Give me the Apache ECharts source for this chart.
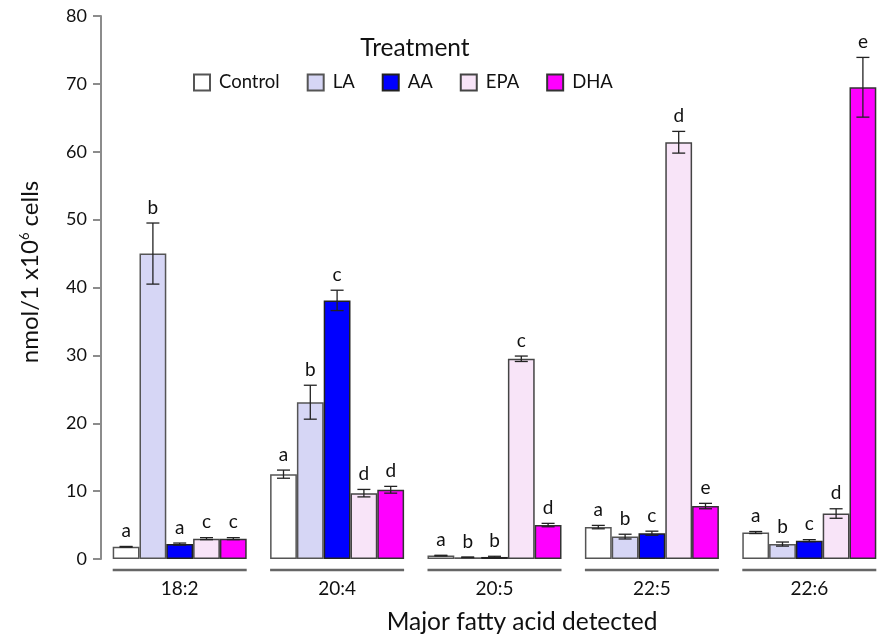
<!DOCTYPE html>
<html><head><meta charset="utf-8">
<script src="https://cdn.jsdelivr.net/npm/echarts@6/dist/echarts.min.js"></script>
<style>html,body{margin:0;padding:0;background:#fff}#chart{width:888px;height:639px}</style>
</head><body><div id="chart"></div>
<script>
// Fatty acid content per treatment (mean, SE, significance letter)
const categories = ['18:2', '20:4', '20:5', '22:5', '22:6'];
const treatments = ['Control', 'LA', 'AA', 'EPA', 'DHA'];
const yTicks = [0, 10, 20, 30, 40, 50, 60, 70, 80];

const controlMean = [1.8, 12.5, 0.5, 4.7, 3.9];
const controlErr = [0.05, 0.6, 0.05, 0.25, 0.15];
const controlLetters = ['a', 'a', 'a', 'a', 'a'];

const laMean = [45.0, 23.1, 0.25, 3.3, 2.2];
const laErr = [4.5, 2.5, 0.05, 0.35, 0.3];
const laLetters = ['b', 'b', 'b', 'b', 'b'];

const aaMean = [2.2, 38.1, 0.3, 3.8, 2.7];
const aaErr = [0.15, 1.5, 0.1, 0.3, 0.15];
const aaLetters = ['a', 'c', 'b', 'c', 'c'];

const epaMean = [3.0, 9.7, 29.5, 61.4, 6.7];
const epaErr = [0.15, 0.55, 0.4, 1.6, 0.7];
const epaLetters = ['c', 'd', 'c', 'd', 'd'];

const dhaMean = [3.0, 10.2, 5.0, 7.8, 69.5];
const dhaErr = [0.15, 0.5, 0.25, 0.4, 4.4];
const dhaLetters = ['c', 'd', 'd', 'e', 'e'];

const groups = [
  { name: 'Control', mean: controlMean, err: controlErr, letters: controlLetters, color: '#ffffff', border: '#555' },
  { name: 'LA', mean: laMean, err: laErr, letters: laLetters, color: '#d6d6f5', border: '#555' },
  { name: 'AA', mean: aaMean, err: aaErr, letters: aaLetters, color: '#0000ff', border: '#222' },
  { name: 'EPA', mean: epaMean, err: epaErr, letters: epaLetters, color: '#f8e4f8', border: '#444' },
  { name: 'DHA', mean: dhaMean, err: dhaErr, letters: dhaLetters, color: '#ff00ff', border: '#333' }
];

const FONT = 'Lato, "Open Sans", sans-serif';
const INK = '#111';
const BAR_W = 26.8;
const CAP = 6.5;

const barSeries = groups.map(g => ({
  name: g.name,
  type: 'bar',
  barWidth: BAR_W,
  barGap: '0%',
  data: g.mean,
  itemStyle: { color: g.color, borderColor: g.border, borderWidth: 1.5 },
  z: 2
}));

// Error bars with significance letters, placed over each bar
const errSeries = groups.map((g, k) => ({
  name: g.name + ' SE',
  type: 'custom',
  clip: false,
  z: 3,
  data: g.mean.map((m, i) => [i, m, g.err[i]]),
  encode: { x: 0, y: 1 },
  renderItem: function (params, api) {
    const i = api.value(0), m = api.value(1), e = api.value(2);
    const off = (k - (groups.length - 1) / 2) * BAR_W;
    const hi = api.coord([i, m + e]);
    const lo = api.coord([i, m - e]);
    const x = hi[0] + off;
    const ls = { stroke: '#222', lineWidth: 1.3 };
    return {
      type: 'group',
      children: [
        { type: 'line', shape: { x1: x, y1: hi[1], x2: x, y2: lo[1] }, style: ls },
        { type: 'line', shape: { x1: x - CAP, y1: hi[1], x2: x + CAP, y2: hi[1] }, style: ls },
        { type: 'line', shape: { x1: x - CAP, y1: lo[1], x2: x + CAP, y2: lo[1] }, style: ls },
        {
          type: 'text',
          style: {
            x: x, y: hi[1] - 6, text: g.letters[params.dataIndex],
            align: 'center', verticalAlign: 'bottom',
            fontSize: 19, fontFamily: FONT, fill: INK
          }
        }
      ]
    };
  }
}));

// Short baseline segment under each fatty-acid group
const groupLines = {
  name: 'group lines',
  type: 'custom',
  clip: false,
  silent: true,
  data: categories.map((c, i) => [i, 0]),
  encode: { x: 0, y: 1 },
  renderItem: function (params, api) {
    const p = api.coord([api.value(0), 0]);
    const half = BAR_W * groups.length / 2;
    return {
      type: 'line',
      shape: { x1: p[0] - half, y1: p[1] + 11, x2: p[0] + half, y2: p[1] + 11 },
      style: { stroke: '#666', lineWidth: 2.5 }
    };
  }
};

const chart = echarts.init(document.getElementById('chart'), null, { renderer: 'canvas' });
chart.setOption({
  animation: false,
  backgroundColor: '#fff',
  textStyle: { fontFamily: FONT },
  grid: { left: 101, top: 16, width: 804, bottom: 80 },
  graphic: [
    {
      type: 'text', x: 415, y: 48,
      style: { text: 'Treatment', fontSize: 24.5, fontFamily: FONT, fill: INK, align: 'center', verticalAlign: 'middle' }
    },
    {
      type: 'text', x: 522, y: 622,
      style: { text: 'Major fatty acid detected', fontSize: 24.5, fontFamily: FONT, fill: INK, align: 'center', verticalAlign: 'middle' }
    },
    {
      type: 'text', x: 30, y: 272, rotation: Math.PI / 2,
      style: {
        text: 'nmol/1 x10{sup|6} cells', fontSize: 24, fontFamily: FONT, fill: INK,
        align: 'center', verticalAlign: 'middle',
        rich: { sup: { fontSize: 13, verticalAlign: 'top', padding: [0, 0, 9, 0], fontFamily: FONT, fill: INK } }
      }
    }
  ],
  legend: {
    data: treatments,
    left: 193, top: 73, padding: 0,
    itemWidth: 16, itemHeight: 16, itemGap: 27,
    icon: 'rect',
    textStyle: { fontSize: 18.5, color: INK, fontFamily: FONT, padding: [0, 0, 0, 4] }
  },
  xAxis: {
    type: 'category',
    data: categories,
    axisLine: { show: false },
    axisTick: { show: false },
    axisLabel: { fontSize: 19, color: INK, margin: 20, fontFamily: FONT }
  },
  yAxis: {
    type: 'value',
    min: yTicks[0], max: yTicks[yTicks.length - 1], interval: yTicks[1] - yTicks[0],
    axisLine: { show: true, lineStyle: { color: '#8c8c8c', width: 2 } },
    axisTick: { show: true, length: 8, lineStyle: { color: '#8c8c8c', width: 2 } },
    splitLine: { show: false },
    axisLabel: { fontSize: 18, color: INK, margin: 14, fontFamily: FONT, padding: [6, 0, 0, 0] }
  },
  series: [...barSeries, ...errSeries, groupLines]
});
</script>
</body></html>
